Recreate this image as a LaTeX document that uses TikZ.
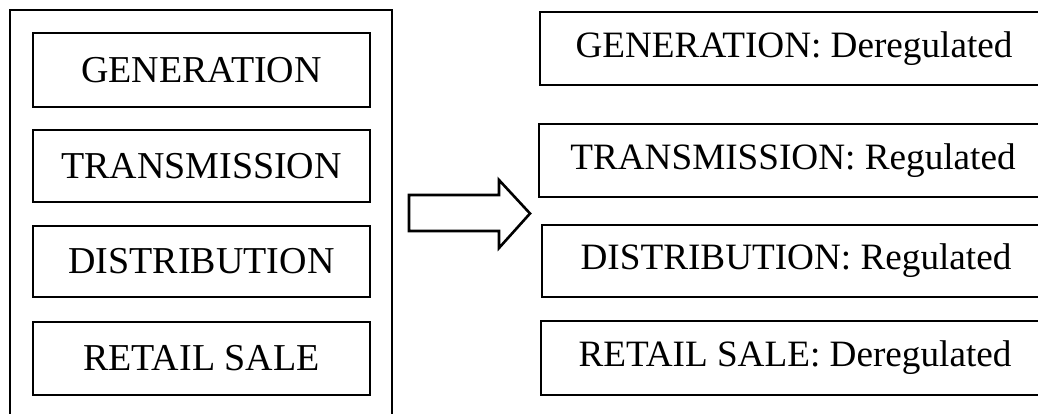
\documentclass[tikz,border=0pt]{standalone}
\usepackage{fontspec}
\setmainfont{Liberation Serif}
\begin{document}
\begin{tikzpicture}[x=1pt,y=-1pt,
  every node/.style={font=\fontsize{38}{40}\selectfont, inner sep=0pt},
  sector/.style={draw, line width=2.6pt, minimum width=337pt},
  status/.style={draw, line width=2pt, minimum width=508pt,
    font=\fontsize{37.2}{40}\selectfont},
  blockarrow/.style={draw, line width=2.6pt, line join=miter}]
\useasboundingbox (0,0) rectangle (1038,414);
\clip (0,0) rectangle (1038,414);

% frame around the integrated utility
\draw[line width=2.4pt] (10,420) -- (10,10) -- (392,10) -- (392,420);

% vertically integrated chain
\node[sector, minimum height=74pt] (gen)  at (201.5,70)    {GENERATION};
\node[sector, minimum height=72pt] (tra)  at (201.5,166)   {TRANSMISSION};
\node[sector, minimum height=71pt] (dis)  at (201.5,261.5) {DISTRIBUTION};
\node[sector, minimum height=73pt] (ret)  at (201.5,358.5) {RETAIL SALE};

% restructuring arrow
\draw[blockarrow] (409,195) -- (499,195) -- (499,180) -- (530,213.5)
  -- (499,248) -- (499,231) -- (409,231) -- cycle;

% unbundled sectors
\node[status, minimum height=73pt] (rgen) at (794,48.5) {GENERATION: Deregulated};
\node[status, minimum height=73pt] (rtra) at (793,160.5) {TRANSMISSION: Regulated};
\node[status, minimum height=72pt] (rdis) at (796,261)   {DISTRIBUTION: Regulated};
\node[status, minimum height=74pt] (rret) at (795,358)   {RETAIL SALE: Deregulated};
\end{tikzpicture}
\end{document}
